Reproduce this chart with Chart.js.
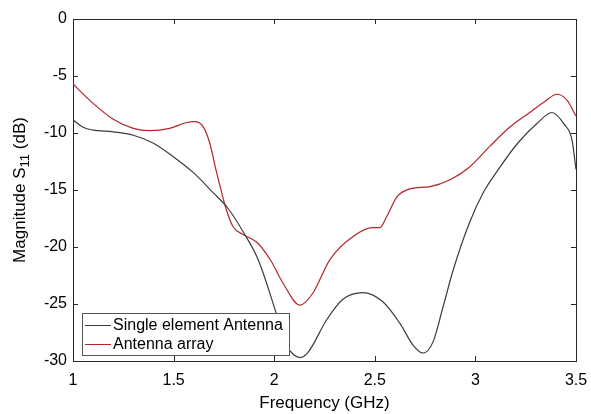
<!DOCTYPE html>
<html lang="en">

<head>
    <meta charset="UTF-8">
    <title>Magnitude S11</title>
    <style>
        html, body { margin: 0; padding: 0; background: #fff; }
        #wrap { width: 591px; height: 414px; }
    </style>
</head>

<body>
    <div id="wrap"><canvas id="myChart" width="591" height="414"></canvas></div>
    <script src="https://cdn.jsdelivr.net/npm/chart.js@4/dist/chart.umd.min.js"></script>
    <script>
        // single element antenna
        const singleFreq = [1.00, 1.05, 1.10, 1.20, 1.30, 1.40, 1.50, 1.60, 1.70, 1.77, 1.85, 1.92, 2.01, 2.06, 2.10, 2.13, 2.17, 2.26, 2.34, 2.44, 2.54, 2.625, 2.69, 2.74, 2.79, 2.84, 2.89, 2.97, 3.04, 3.11, 3.21, 3.31, 3.38, 3.44, 3.48, 3.5];
        const singleS11 = [-8.85, -9.5, -9.75, -9.9, -10.2, -10.9, -12.1, -13.5, -15.3, -16.6, -18.8, -21.1, -25.8, -28.6, -29.5, -29.7, -29.2, -26.4, -24.6, -24.0, -24.8, -26.7, -28.6, -29.3, -28.3, -25.2, -22.0, -17.9, -15.2, -13.3, -10.9, -9.1, -8.2, -9.2, -10.6, -13.2];

        // antenna array
        const arrayFreq = [1.00, 1.10, 1.20, 1.30, 1.38, 1.48, 1.56, 1.605, 1.645, 1.68, 1.71, 1.74, 1.76, 1.795, 1.845, 1.915, 1.98, 2.045, 2.128, 2.19, 2.277, 2.39, 2.49, 2.525, 2.56, 2.61, 2.675, 2.775, 2.874, 2.97, 3.07, 3.17, 3.27, 3.34, 3.405, 3.454, 3.5];
        const arrayS11 = [-5.7, -7.4, -8.8, -9.6, -9.8, -9.6, -9.1, -9.0, -9.4, -10.9, -13.2, -15.3, -16.6, -18.2, -18.9, -19.6, -21.1, -23.2, -25.1, -24.1, -21.1, -19.1, -18.3, -18.3, -17.3, -15.6, -14.9, -14.7, -14.1, -13.0, -11.2, -9.5, -8.2, -7.3, -6.6, -7.1, -8.5];

        const seriesLabels = ['Single element Antenna', 'Antenna array'];
        const xTicks = [1, 1.5, 2, 2.5, 3, 3.5];
        const yTicks = [-30, -25, -20, -15, -10, -5, 0];

        const FONT = "'Liberation Sans', Arial, sans-serif";
        const AXIS = '#262626';

        // box, inward ticks, legend and y title (MATLAB look)
        const matlabPlugin = {
            id: 'matlab',
            afterDraw(chart) {
                const ctx = chart.ctx;
                const a = chart.chartArea;
                const xs = chart.scales.x, ys = chart.scales.y;
                ctx.save();
                ctx.strokeStyle = AXIS;
                ctx.lineWidth = 1;
                ctx.strokeRect(Math.round(a.left) + 0.5, Math.round(a.top) + 0.5, Math.round(a.right - a.left), Math.round(a.bottom - a.top));
                ctx.beginPath();
                xTicks.forEach(v => {
                    const px = Math.round(xs.getPixelForValue(v)) + 0.5;
                    ctx.moveTo(px, a.bottom); ctx.lineTo(px, a.bottom - 5);
                    ctx.moveTo(px, a.top); ctx.lineTo(px, a.top + 5);
                });
                yTicks.forEach(v => {
                    const py = Math.round(ys.getPixelForValue(v)) + 0.5;
                    ctx.moveTo(a.left, py); ctx.lineTo(a.left + 5, py);
                    ctx.moveTo(a.right, py); ctx.lineTo(a.right - 5, py);
                });
                ctx.stroke();

                // legend box
                const lx = a.left + 9, lw = 207, lh = 42, ly = a.bottom - 48;
                ctx.fillStyle = '#fff';
                ctx.fillRect(lx, ly, lw, lh);
                ctx.strokeStyle = '#555';
                ctx.strokeRect(lx + 0.5, ly + 0.5, lw, lh);
                ctx.font = '16px ' + FONT;
                ctx.textBaseline = 'middle';
                chart.data.datasets.forEach((ds, i) => {
                    const yy = ly + 12 + i * 19;
                    ctx.strokeStyle = ds.borderColor;
                    ctx.beginPath();
                    ctx.moveTo(lx + 3, yy + 0.5); ctx.lineTo(lx + 29, yy + 0.5);
                    ctx.stroke();
                    ctx.fillStyle = '#000';
                    ctx.fillText(ds.label, lx + 31, yy + 1);
                });

                // y title with subscript
                ctx.translate(20, (a.top + a.bottom) / 2);
                ctx.rotate(-Math.PI / 2);
                ctx.fillStyle = '#000';
                ctx.textBaseline = 'middle';
                const big = '17px ' + FONT, small = '13px ' + FONT;
                const parts = [['Magnitude S', big, 0], ['11', small, 5], [' (dB)', big, 0]];
                let total = 0;
                parts.forEach(p => { ctx.font = p[1]; total += ctx.measureText(p[0]).width; });
                let cx = -total / 2;
                parts.forEach(p => {
                    ctx.font = p[1];
                    ctx.fillText(p[0], cx, p[2]);
                    cx += ctx.measureText(p[0]).width;
                });
                ctx.restore();
            }
        };

        const ctx = document.getElementById('myChart').getContext('2d');
        const myChart = new Chart(ctx, {
            type: 'line',
            data: {
                datasets: [
                    {
                        label: seriesLabels[0],
                        data: singleFreq.map((f, i) => ({ x: f, y: singleS11[i] })),
                        borderColor: '#3c3c3c',
                        borderWidth: 1.2,
                        pointRadius: 0,
                        cubicInterpolationMode: 'monotone'
                    },
                    {
                        label: seriesLabels[1],
                        data: arrayFreq.map((f, i) => ({ x: f, y: arrayS11[i] })),
                        borderColor: '#b3262c',
                        borderWidth: 1.2,
                        pointRadius: 0,
                        cubicInterpolationMode: 'monotone'
                    }
                ]
            },
            options: {
                responsive: false,
                animation: false,
                layout: { padding: { top: 19, right: 15, left: 0, bottom: 0 } },
                plugins: { legend: { display: false }, tooltip: { enabled: false } },
                scales: {
                    x: {
                        type: 'linear',
                        min: 1,
                        max: 3.5,
                        afterFit: s => { s.height = 53; s.paddingLeft = 0; s.paddingRight = 0; },
                        afterBuildTicks: s => { s.ticks = xTicks.map(v => ({ value: v })); },
                        grid: { display: false, drawTicks: false },
                        border: { display: false },
                        ticks: { color: '#000', font: { family: FONT, size: 16 }, padding: 10, maxRotation: 0, callback: v => String(v) },
                        title: { display: true, text: 'Frequency (GHz)', color: '#000', font: { family: FONT, size: 17 }, padding: { top: 6, bottom: 0 } }
                    },
                    y: {
                        type: 'linear',
                        min: -30,
                        max: 0,
                        afterFit: s => { s.width = 73; s.paddingTop = 0; s.paddingBottom = 0; },
                        afterBuildTicks: s => { s.ticks = yTicks.map(v => ({ value: v })); },
                        grid: { display: false, drawTicks: false },
                        border: { display: false },
                        ticks: { color: '#000', font: { family: FONT, size: 16 }, padding: 6, callback: v => String(v) }
                    }
                }
            },
            plugins: [matlabPlugin]
        });
    </script>
</body>

</html>
